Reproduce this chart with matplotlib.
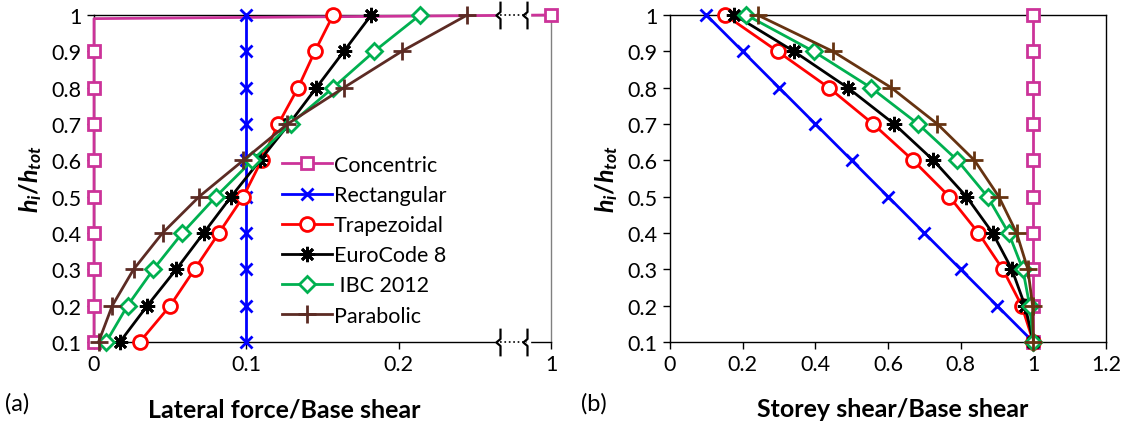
import matplotlib
matplotlib.use('Agg')
import matplotlib.pyplot as plt
import matplotlib.path as mpath
import matplotlib.transforms as mtrans

plt.rcParams['font.family'] = ['Lato', 'DejaVu Sans']
plt.rcParams['mathtext.fontset'] = 'custom'
plt.rcParams['mathtext.it'] = 'Lato:italic:bold'
plt.rcParams['mathtext.rm'] = 'Lato:bold'

# storey levels h_i/h_tot
levels = [0.1, 0.2, 0.3, 0.4, 0.5, 0.6, 0.7, 0.8, 0.9, 1.0]

# (a) lateral force / base shear
conc_levels = [0.1, 0.2, 0.3, 0.4, 0.5, 0.6, 0.7, 0.8, 0.9, 0.99, 1.0]
force_conc = [0, 0, 0, 0, 0, 0, 0, 0, 0, 0, 1]
force_rect = [0.1, 0.1, 0.1, 0.1, 0.1, 0.1, 0.1, 0.1, 0.1, 0.1]
force_trap = [0.030, 0.050, 0.066, 0.082, 0.098, 0.110, 0.121, 0.134, 0.145, 0.157]
force_ec8 = [0.017, 0.035, 0.054, 0.072, 0.090, 0.109, 0.128, 0.146, 0.164, 0.182]
force_ibc = [0.008, 0.022, 0.039, 0.058, 0.080, 0.104, 0.129, 0.157, 0.184, 0.214]
force_para = [0.003, 0.012, 0.026, 0.045, 0.069, 0.098, 0.127, 0.164, 0.202, 0.245]

# (b) storey shear / base shear
shear_conc = [1, 1, 1, 1, 1, 1, 1, 1, 1, 1]
shear_rect = [1.0, 0.9, 0.8, 0.7, 0.6, 0.5, 0.4, 0.3, 0.2, 0.1]
shear_trap = [1.0, 0.968, 0.916, 0.849, 0.769, 0.669, 0.559, 0.437, 0.296, 0.152]
shear_ec8 = [1.0, 0.977, 0.941, 0.888, 0.816, 0.725, 0.617, 0.489, 0.341, 0.177]
shear_ibc = [1.0, 0.990, 0.971, 0.932, 0.874, 0.791, 0.683, 0.553, 0.395, 0.210]
shear_para = [1.0, 0.998, 0.985, 0.954, 0.905, 0.838, 0.736, 0.609, 0.448, 0.241]

names = ['Concentric', 'Rectangular', 'Trapezoidal', 'EuroCode 8', ' IBC 2012', 'Parabolic']
colors = ['#CC3399', '#0000FF', '#FF0000', '#000000', '#00B050', '#5C2B24']
markers = ['s', 'x', 'o', (8, 2, 0), 'D', '+']
msizes = [9, 9, 10, 11, 8, 13]


def brk(v):
    # axis (a) is broken between 0.25 and 1: value 1 sits at position 0.3
    return v if v < 0.25 else 0.3


fig = plt.figure(figsize=(11.29, 4.27), dpi=100)
ax1 = fig.add_axes([94/1129, 1-343/427, (551-94)/1129, (343-16)/427])
ax2 = fig.add_axes([670/1129, 1-343/427, (1106-670)/1129, (343-16)/427])

style = dict(lw=2, mew=2, mfc='white', clip_on=False)

# ---- panel (a)
ax1.plot([brk(v) for v in force_conc], conc_levels, color=colors[0], marker=markers[0],
         ms=msizes[0], markevery=[0, 1, 2, 3, 4, 5, 6, 7, 8, 10], label=names[0], zorder=3, **style)
for i, f in enumerate([force_rect, force_trap, force_ec8, force_ibc, force_para]):
    ax1.plot(f, levels, color=colors[i+1], marker=markers[i+1], ms=msizes[i+1],
             label=names[i+1], zorder=3, **style)

ax1.set_xlim(0, 0.3)
ax1.set_ylim(0.1, 1.0)
ax1.set_xticks([0, 0.1, 0.2, 0.3])
ax1.set_xticklabels(['0', '0.1', '0.2', '1'])
ax1.set_yticks(levels)
ax1.set_yticklabels(['0.1', '0.2', '0.3', '0.4', '0.5', '0.6', '0.7', '0.8', '0.9', '1'])
ax1.spines['right'].set_color('#808080')
ax1.set_ylabel(r'$h_i/h_{tot}$', fontsize=18, labelpad=5)

# axis break symbols
brace = mpath.Path([(0, 1), (0, 0.25), (-0.3, 0), (0, -0.25), (0, -1)])
tr = mtrans.blended_transform_factory(ax1.transData, ax1.transAxes)
for yy in [0, 1]:
    ax1.plot([0.2665, 0.2845], [yy, yy], color='white', lw=6, transform=tr, clip_on=False, zorder=5)
    ax1.plot([0.2665, 0.2845], [yy, yy], color='black', lw=1.2, ls=':', transform=tr,
             clip_on=False, zorder=6)
    for xb in [0.2665, 0.2845]:
        ax1.plot([xb], [yy], marker=brace, ms=20, mew=1.6, color='black', mfc='none',
                 transform=tr, clip_on=False, zorder=6)

ax1.legend(loc='upper left', bbox_to_anchor=(0.412, 0.572), frameon=False, fontsize=15.5,
           handlelength=2.3, handletextpad=0.1, labelspacing=0.47, borderpad=0,
           borderaxespad=0)

# ---- panel (b)
for i, s in enumerate([shear_conc, shear_rect, shear_trap, shear_ec8, shear_ibc, shear_para]):
    c = '#663311' if i == 5 else colors[i]
    ax2.plot(s, levels, color=c, marker=markers[i], ms=msizes[i], zorder=3, **style)

ax2.set_xlim(0, 1.2)
ax2.set_ylim(0.1, 1.0)
ax2.set_xticks([0, 0.2, 0.4, 0.6, 0.8, 1.0, 1.2])
ax2.set_xticklabels(['0', '0.2', '0.4', '0.6', '0.8', '1', '1.2'])
ax2.set_yticks(levels)
ax2.set_yticklabels(['0.1', '0.2', '0.3', '0.4', '0.5', '0.6', '0.7', '0.8', '0.9', '1'])
ax2.set_ylabel(r'$h_i/h_{tot}$', fontsize=18, labelpad=5)

for ax in (ax1, ax2):
    ax.tick_params(direction='out', length=5, width=1, labelsize=15.5, pad=4)
    for sp in ax.spines.values():
        sp.set_linewidth(1)

fig.text(284/1129, 1-410/427, 'Lateral force/Base shear', fontsize=18, fontweight='bold',
         ha='center', va='center')
fig.text(893/1129, 1-410/427, 'Storey shear/Base shear', fontsize=18, fontweight='bold',
         ha='center', va='center')
fig.text(5/1129, 1-404/427, '(a)', fontsize=17, ha='left', va='center')
fig.text(581/1129, 1-404/427, '(b)', fontsize=17, ha='left', va='center')

fig.savefig('out.png', dpi=100)
